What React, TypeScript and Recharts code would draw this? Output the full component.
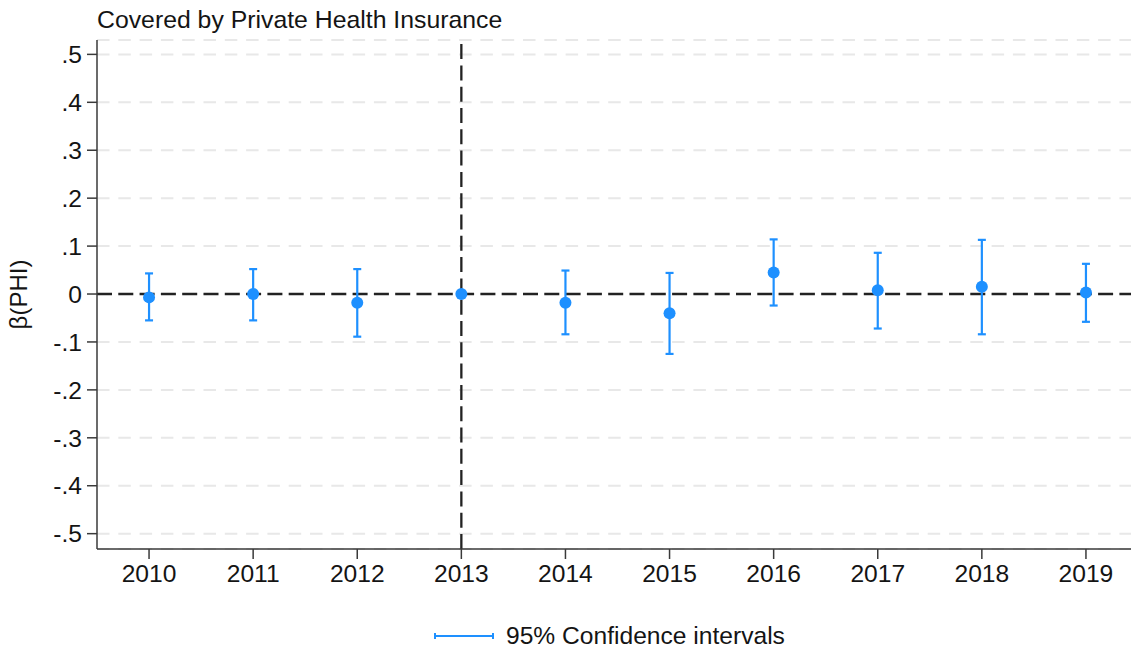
import {
  CartesianGrid,
  ComposedChart,
  ErrorBar,
  Label,
  Legend,
  ReferenceLine,
  Scatter,
  XAxis,
  YAxis,
} from "recharts";

// event-study coefficients by year, 2013 is the omitted reference year
const years = [2010, 2011, 2012, 2013, 2014, 2015, 2016, 2017, 2018, 2019];
const estimates = [-0.007, 0.0, -0.018, 0, -0.018, -0.04, 0.045, 0.008, 0.015, 0.003];
const lowerCI: (number | null)[] = [-0.055, -0.055, -0.089, null, -0.084, -0.125, -0.024, -0.072, -0.084, -0.058];
const upperCI: (number | null)[] = [0.043, 0.052, 0.052, null, 0.049, 0.044, 0.114, 0.086, 0.113, 0.063];
const yTicks = [-0.5, -0.4, -0.3, -0.2, -0.1, 0, 0.1, 0.2, 0.3, 0.4, 0.5];
const eventYear = 2013;

const BLUE = "#1e90ff";
const INK = "#141414";
const AXIS = "#3a3a3a";
const FONT = '"Liberation Sans", Arial, Helvetica, sans-serif';

type Row = { year: number; est: number; err?: [number, number] };

const rows: Row[] = years.map((year, i) => {
  const lo = lowerCI[i];
  const hi = upperCI[i];
  return {
    year,
    est: estimates[i],
    err: lo == null || hi == null ? undefined : [estimates[i] - lo, hi - estimates[i]],
  };
});
const ciRows = rows.filter((r) => r.err);

/* Stata style: .5, -.5, 0 */
function stataTick(v: number): string {
  if (Math.abs(v) < 1e-9) return "0";
  return v.toFixed(1).replace("0.", ".");
}

function CiLegend() {
  return (
    <div style={{ display: "flex", alignItems: "center", lineHeight: "28px", fontSize: 24.6, color: INK, fontFamily: FONT }}>
      <svg width={60} height={10} style={{ marginRight: 12 }}>
        <line x1={1} y1={5} x2={59} y2={5} stroke={BLUE} strokeWidth={2} />
        <line x1={1} y1={2} x2={1} y2={8} stroke={BLUE} strokeWidth={2} />
        <line x1={59} y1={2} x2={59} y2={8} stroke={BLUE} strokeWidth={2} />
      </svg>
      <span>95% Confidence intervals</span>
    </div>
  );
}

export default function App() {
  return (
    <div
      style={{
        position: "fixed",
        left: 0,
        top: 0,
        width: 1131,
        height: 649,
        overflow: "hidden",
        background: "#fff",
        fontFamily: FONT,
      }}
    >
      <div
        style={{
          position: "absolute",
          left: 97,
          top: 8,
          fontSize: 24.8,
          lineHeight: 1,
          color: INK,
          whiteSpace: "nowrap",
        }}
      >
        Covered by Private Health Insurance
      </div>
      <ComposedChart
        width={1140}
        height={649}
        margin={{ top: 40, right: 2, bottom: 0, left: 0 }}
        style={{ position: "absolute", left: 0, top: 0 }}
      >
        <CartesianGrid
          vertical={false}
          stroke="#e8e8e8"
          strokeWidth={2}
          strokeDasharray="12.5 8.8"
        />
        <XAxis
          type="number"
          dataKey="year"
          domain={[2009.5, 2019.5]}
          ticks={years}
          height={100}
          tickSize={10}
          tickMargin={6}
          axisLine={{ stroke: AXIS, strokeWidth: 1.5 }}
          tickLine={{ stroke: AXIS, strokeWidth: 1.5 }}
          tick={{ fill: INK, fontSize: 24.6, fontFamily: FONT }}
        />
        <YAxis
          type="number"
          dataKey="est"
          domain={[-0.532, 0.53]}
          ticks={yTicks}
          width={97}
          tickSize={10}
          tickMargin={5}
          tickFormatter={stataTick}
          axisLine={{ stroke: AXIS, strokeWidth: 1.5 }}
          tickLine={{ stroke: AXIS, strokeWidth: 1.5 }}
          tick={{ fill: INK, fontSize: 24.6, fontFamily: FONT }}
        >
          <Label
            content={({ viewBox }: any) => {
              const x = viewBox.x + 27;
              const y = viewBox.y + viewBox.height / 2;
              return (
                <text
                  x={x}
                  y={y}
                  transform={`rotate(-90, ${x}, ${y})`}
                  textAnchor="middle"
                  fill={INK}
                  fontSize={24}
                  fontFamily={FONT}
                >
                  β(PHI)
                </text>
              );
            }}
          />
        </YAxis>
        <ReferenceLine y={0} stroke="#222" strokeWidth={2.3} strokeDasharray="15 6.3" />
        <ReferenceLine x={eventYear} stroke="#222" strokeWidth={2.3} strokeDasharray="15 6.3" />
        <Scatter
          data={ciRows}
          dataKey="est"
          shape={() => <g />}
          legendType="none"
          isAnimationActive={false}
        >
          <ErrorBar dataKey="err" direction="y" width={4} stroke={BLUE} strokeWidth={2.2} />
        </Scatter>
        <Scatter
          data={rows}
          dataKey="est"
          shape={(p: any) => <circle cx={p.cx} cy={p.cy} r={6} fill={BLUE} />}
          legendType="none"
          isAnimationActive={false}
        />
        <Legend
          layout="horizontal"
          align="center"
          verticalAlign="middle"
          content={() => <CiLegend />}
          wrapperStyle={{ left: 434, top: 622, width: "auto", height: "auto", bottom: "auto" }}
        />
      </ComposedChart>
    </div>
  );
}
